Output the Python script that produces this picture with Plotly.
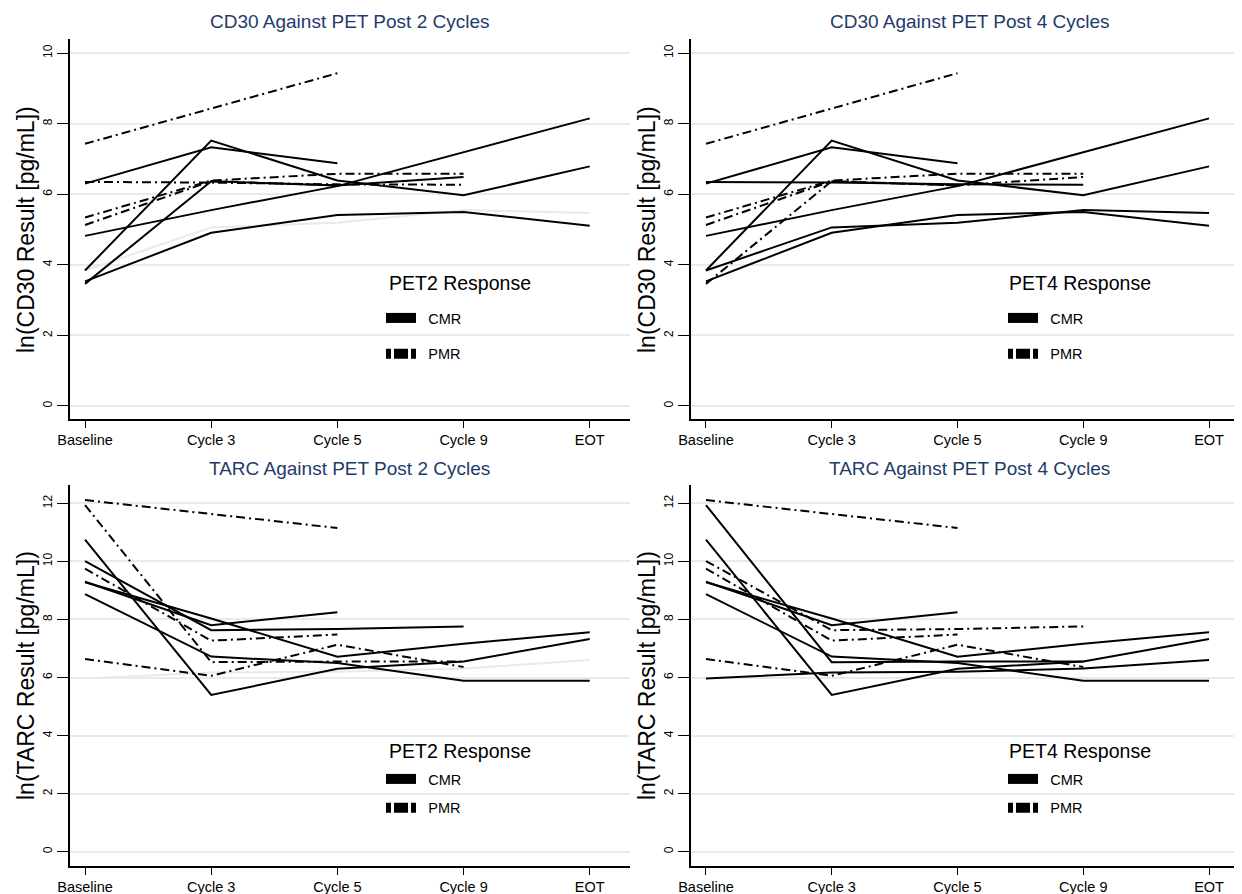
import plotly.graph_objects as go

# ---------------- data ----------------
visits = ["Baseline", "Cycle 3", "Cycle 5", "Cycle 9", "EOT"]
patients = ["P01", "P02", "P03", "P04", "P05", "P06", "P07", "P08", "P09", "P10"]

cd30_values = [
    [7.43, 8.42, 9.43, None, None],
    [6.30, 7.33, 6.88, None, None],
    [3.84, 7.52, 6.39, 5.97, 6.79],
    [4.82, 5.55, 6.23, 7.19, 8.15],
    [3.53, 4.91, 5.41, 5.50, 5.11],
    [3.84, 5.06, 5.19, 5.55, 5.47],
    [3.46, 6.37, 6.25, 6.49, None],
    [6.35, 6.33, 6.28, 6.27, None],
    [5.34, 6.39, 6.58, 6.58, None],
    [5.13, 6.37, 6.25, None, None],
]

tarc_values = [
    [12.11, 11.63, 11.15, None, None],
    [9.30, 7.80, 8.25, None, None],
    [10.75, 5.40, 6.30, 6.55, 7.33],
    [9.28, 8.03, 6.72, 7.16, 7.56],
    [8.87, 6.72, 6.50, 5.89, 5.89],
    [5.97, 6.17, 6.20, 6.31, 6.60],
    [10.01, 7.63, 7.67, 7.76, None],
    [11.94, 6.53, 6.55, 6.55, None],
    [6.64, 6.06, 7.13, 6.36, None],
    [9.75, 7.27, 7.48, None, None],
]

pet2_response = ["PMR", "CMR", "CMR", "CMR", "CMR", None, "CMR", "PMR", "PMR", "PMR"]
pet4_response = ["PMR", "CMR", "CMR", "CMR", "CMR", "CMR", "PMR", "CMR", "PMR", "PMR"]

panel_titles = ["CD30 Against PET Post 2 Cycles", "CD30 Against PET Post 4 Cycles",
                "TARC Against PET Post 2 Cycles", "TARC Against PET Post 4 Cycles"]
y_titles = ["ln(CD30 Result [pg/mL])", "ln(TARC Result [pg/mL])"]
legend_titles = ["PET2 Response", "PET4 Response"]
response_levels = ["CMR", "PMR"]

# ---------------- styling / geometry ----------------
# The page body has an 8px margin, so the figure is sized to fill the
# remaining window area and all layout positions are offset by it.
PAGE_MARGIN = 8
W, H = 1242 - PAGE_MARGIN, 894 - PAGE_MARGIN
FONT = "Liberation Sans, Arial, sans-serif"
TITLE_COLOR = "#1f3b6b"
GRID = "#e4ecef"
DASHDOT = "9px,4px,2px,4px"
LEG_DASHDOT = "5px,3px,14px,3px"

col_px = [(70, 630), (691, 1242)]
row_px = [(39, 419), (485, 866)]
x_ranges = [[-0.119, 4.319], [-0.119, 4.262]]
y_ranges = [[-0.37, 10.4], [-0.49, 12.63]]
y_ticks = [[0, 2, 4, 6, 8, 10], [0, 2, 4, 6, 8, 10, 12]]


def px_x(p):
    return (p - PAGE_MARGIN) / W


def px_y(p):
    return 1 - (p - PAGE_MARGIN) / H


fig = go.Figure()

panels = [
    (0, 0, cd30_values, pet2_response, 0),
    (0, 1, cd30_values, pet4_response, 1),
    (1, 0, tarc_values, pet2_response, 0),
    (1, 1, tarc_values, pet4_response, 1),
]

layout_updates = {}
annotations = []

for k, (r, c, values, resp, li) in enumerate(panels):
    idx = k + 1
    xa = "x" if idx == 1 else f"x{idx}"
    ya = "y" if idx == 1 else f"y{idx}"
    leg = "legend" if idx == 1 else f"legend{idx}"

    # light grey (no response) first, then black
    order = sorted(range(len(patients)), key=lambda i: 0 if resp[i] is None else 1)
    for i in order:
        rr = resp[i]
        if rr is None:
            line = dict(color="#e9e9e9", width=2)
        elif rr == "CMR":
            line = dict(color="black", width=2)
        else:
            line = dict(color="black", width=2, dash=DASHDOT)
        fig.add_trace(go.Scatter(
            x=visits, y=values[i], mode="lines", line=line,
            xaxis=xa, yaxis=ya, showlegend=False, connectgaps=False,
            name=patients[i], hoverinfo="skip"))

    # legend entries
    for lvl in response_levels:
        fig.add_trace(go.Scatter(
            x=[None], y=[None], mode="lines", name="\u2002" + lvl,
            line=dict(color="black", width=10,
                      dash=None if lvl == "CMR" else LEG_DASHDOT),
            xaxis=xa, yaxis=ya, legend=leg, legendgroup=f"{lvl}{idx}",
            showlegend=True))

    x0, x1 = col_px[c]
    y0, y1 = row_px[r]
    layout_updates["xaxis" if idx == 1 else f"xaxis{idx}"] = dict(
        domain=[px_x(x0), min(1.0, px_x(x1))], anchor=ya, type="category",
        categoryorder="array", categoryarray=visits, automargin=False,
        range=x_ranges[c], showline=True, linecolor="black", linewidth=1.5,
        ticks="outside", ticklen=7, tickcolor="black", tickwidth=1,
        showgrid=False, zeroline=False,
        tickfont=dict(family=FONT, size=14.5, color="black"))
    layout_updates["yaxis" if idx == 1 else f"yaxis{idx}"] = dict(
        domain=[px_y(y1), px_y(y0)], anchor=xa, range=y_ranges[r],
        automargin=False,
        tickvals=y_ticks[r], showline=True, linecolor="black", linewidth=1.5,
        ticks="outside", ticklen=11, tickcolor="black", tickwidth=1,
        tickangle=-90, showgrid=True, gridcolor=GRID, gridwidth=1.5,
        zeroline=False, tickfont=dict(family=FONT, size=12, color="black"))

    leg_x = 381 if c == 0 else 1003
    leg_top = 302 if r == 0 else 763
    layout_updates[leg] = dict(
        x=px_x(leg_x), y=px_y(leg_top), xanchor="left", yanchor="top",
        bgcolor="rgba(0,0,0,0)", borderwidth=0, itemwidth=30,
        tracegroupgap=14 if r == 0 else 7,
        font=dict(family=FONT, size=14.5, color="black"))

    # legend title
    annotations.append(dict(
        text=legend_titles[li], x=px_x((387, 1007)[c]), y=px_y((283, 751)[r]),
        xref="paper", yref="paper", xanchor="left", yanchor="middle",
        showarrow=False, font=dict(family=FONT, size=19.5, color="black")))
    # panel title
    annotations.append(dict(
        text=panel_titles[k], x=px_x((350, 970)[c]), y=px_y((22, 468)[r]),
        xref="paper", yref="paper", xanchor="center", yanchor="middle",
        showarrow=False, font=dict(family=FONT, size=19, color=TITLE_COLOR)))
    # y title
    annotations.append(dict(
        text=y_titles[r], x=px_x((26, 647)[c]), y=px_y((230, 676)[r]),
        xref="paper", yref="paper", xanchor="center", yanchor="middle",
        textangle=-90, showarrow=False,
        font=dict(family=FONT, size=23, color="black")))

fig.update_layout(
    width=W, height=H, margin=dict(l=0, r=0, t=0, b=0, autoexpand=False),
    paper_bgcolor="white", plot_bgcolor="white",
    font=dict(family=FONT, color="black"),
    annotations=annotations,
    **layout_updates)

fig.write_html("out.html")
